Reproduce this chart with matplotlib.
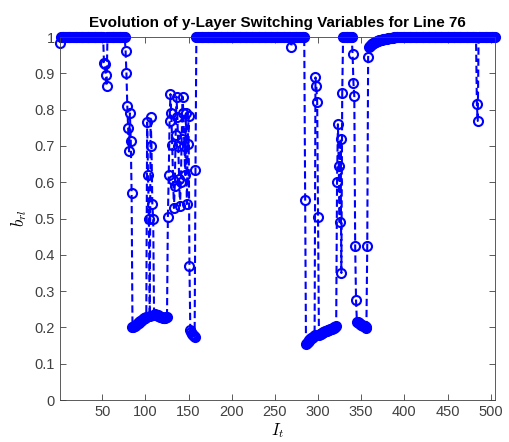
import numpy as np
import matplotlib
matplotlib.use("Agg")
import matplotlib.pyplot as plt

plt.rcParams["font.family"] = ["Liberation Sans", "DejaVu Sans"]
plt.rcParams["mathtext.fontset"] = "cm"

# b_rl per iteration
run_start = [0.985] + [1.0] * 50
dip_52 = [0.93, 0.925, 0.895, 0.865]
run_56 = [1.0] * 21
drop_77 = [0.963, 0.90, 0.81, 0.75, 0.685, 0.79, 0.715, 0.57]
low_85 = [0.200, 0.201, 0.203, 0.205, 0.207, 0.209, 0.211, 0.213, 0.215,
          0.217, 0.219, 0.221, 0.223, 0.225, 0.226, 0.227, 0.228]
spike_102 = [0.765, 0.62, 0.50, 0.232, 0.78, 0.70, 0.54, 0.498]
low_110 = [0.235, 0.236, 0.235, 0.234, 0.233, 0.232, 0.231, 0.230,
           0.229, 0.228, 0.227, 0.226, 0.226, 0.227, 0.228, 0.228]
cluster_126 = [0.503, 0.62, 0.768, 0.843, 0.79, 0.702, 0.606, 0.529,
               0.59, 0.73, 0.836, 0.78, 0.70, 0.61, 0.535, 0.60,
               0.72, 0.836, 0.79, 0.70, 0.62, 0.79, 0.54, 0.705, 0.782]
tail_151 = [0.37, 0.192, 0.187, 0.183, 0.179, 0.176, 0.174, 0.634]
run_159 = [1.0] * 110 + [0.973] + [1.0] * 15
low_285 = [0.551, 0.154, 0.157, 0.160, 0.162, 0.165, 0.167, 0.170,
           0.172, 0.174, 0.176, 0.178]
spike_297 = [0.889, 0.865, 0.82, 0.503]
low_301 = [0.180, 0.181, 0.183, 0.184, 0.186, 0.187, 0.188, 0.189,
           0.190, 0.191, 0.192, 0.193, 0.194, 0.195, 0.196, 0.197,
           0.198, 0.199, 0.200, 0.202, 0.204]
spike_322 = [0.60, 0.76, 0.645, 0.49, 0.72, 0.35, 0.845]
run_329 = [1.0] * 11
drop_340 = [0.953, 0.874, 0.837, 0.425, 0.275]
low_345 = [0.216, 0.215, 0.213, 0.211, 0.209, 0.207, 0.206, 0.205,
           0.204, 0.203, 0.201, 0.199]
rise_357 = [0.425, 0.944, 0.972, 0.975, 0.978, 0.980, 0.982, 0.984,
            0.985, 0.986, 0.987, 0.988, 0.989, 0.990, 0.991, 0.992,
            0.992, 0.993, 0.994, 0.994, 0.995, 0.995, 0.996, 0.996,
            0.997, 0.997, 0.997, 0.998, 0.998, 0.998, 0.998, 0.999,
            0.999, 0.999, 0.999, 0.999, 0.999, 1.0, 1.0, 1.0, 1.0, 1.0]
run_399 = [1.0] * 85 + [0.815, 0.769] + [1.0] * 20

b_rl = np.array(run_start + dip_52 + run_56 + drop_77 + low_85 + spike_102
                + low_110 + cluster_126 + tail_151 + run_159 + low_285
                + spike_297 + low_301 + spike_322 + run_329 + drop_340
                + low_345 + rise_357 + run_399)
it = np.arange(1, len(b_rl) + 1)

fig = plt.figure(figsize=(5.1, 4.42), dpi=100)
ax = fig.add_axes([0.1176, 0.095, 0.853, 0.821])
ax.plot(it, b_rl, color="blue", ls=(0, (3.5, 1.8)), lw=1.5, marker="o",
        ms=6.5, mfc="none", mec="blue", mew=1.5, clip_on=False)

ax.set_xlim(1, len(b_rl))
ax.set_ylim(0, 1)
ax.set_xticks(np.arange(50, 501, 50))
ax.set_yticks(np.arange(0, 1.01, 0.1))
ax.set_yticklabels(["0", "0.1", "0.2", "0.3", "0.4", "0.5", "0.6", "0.7",
                    "0.8", "0.9", "1"])
ax.tick_params(direction="in", top=True, right=True, labelsize=10.5,
               colors="#404040", length=4, width=0.6)
for s in ax.spines.values():
    s.set_color("#404040")
    s.set_linewidth(0.6)

ax.set_xlabel("$I_t$", fontsize=12, labelpad=2)
ax.set_ylabel("$b_{rl}$", fontsize=12, labelpad=4)
ax.set_title("Evolution of y-Layer Switching Variables for Line 76",
             fontsize=11, fontweight="bold", pad=7)

fig.savefig("out.png", dpi=100)
